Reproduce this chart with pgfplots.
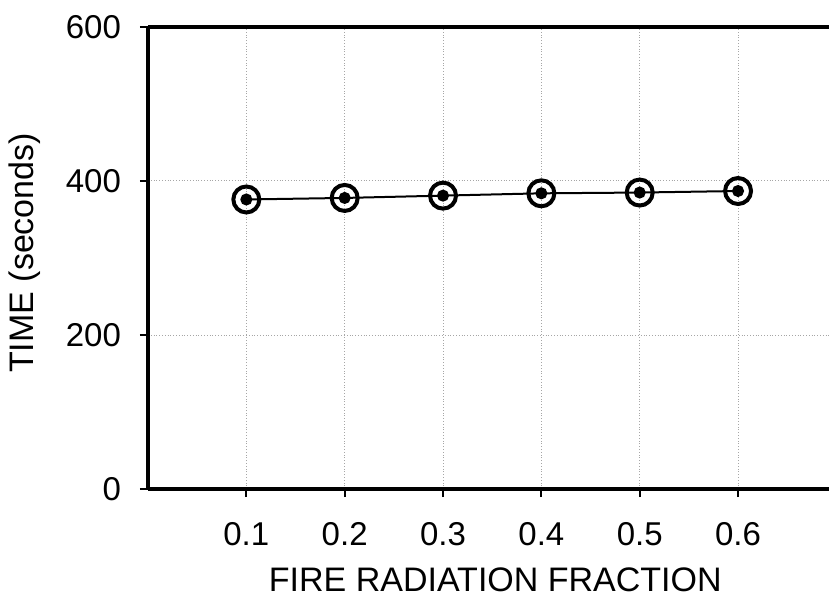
\documentclass[border=0pt]{standalone}
\usepackage{pgfplots}
\pgfplotsset{compat=1.18}
\usepackage{fontspec}
\setmainfont{Liberation Sans}
\begin{document}
\begin{tikzpicture}
\begin{axis}[
  name=ax,
  scale only axis,
  width=340.5pt, height=231pt,
  xmin=0, xmax=0.6925,
  ymin=0, ymax=600,
  axis x line*=box,
  axis y line*=left,
  axis line style={line width=1.6pt},
  xtick={0.1,0.2,0.3,0.4,0.5,0.6},
  xticklabels={0.1,0.2,0.3,0.4,0.5,0.6},
  ytick={0,200,400,600},
  tick align=outside,
  major tick length=4pt,
  tick style={line width=1pt, black},
  xtick pos=bottom,
  ytick pos=left,
  xmajorgrids, ymajorgrids,
  major grid style={densely dotted, gray!70, line width=0.5pt},
  /pgf/number format/assume math mode=true,
  tick label style={font=\fontsize{16.5}{19}\selectfont},
  xticklabel style={yshift=-9pt},
  yticklabel style={xshift=-6pt},
  xlabel={FIRE RADIATION FRACTION},
  ylabel={TIME (seconds)},
  label style={font=\fontsize{17}{20}\selectfont},
  x label style={at={(axis description cs:0.51,-0.196)}, anchor=center},
  y label style={at={(axis description cs:-0.1806,0.511)}, anchor=center, rotate=0},
  clip=false,
]
\addplot[black, line width=1pt, mark=*, mark size=2.5pt,
  mark options={fill=black}] coordinates {
  (0.1,376) (0.2,378) (0.3,381) (0.4,384) (0.5,385) (0.6,387)};
\addplot[draw=none, mark=o, mark size=6.5pt,
  mark options={line width=2pt, black}] coordinates {
  (0.1,376) (0.2,378) (0.3,381) (0.4,384) (0.5,385) (0.6,387)};
\end{axis}
\pgfresetboundingbox
\path[use as bounding box] ([xshift=-74pt,yshift=-57.5pt]ax.south west) rectangle ([yshift=13.5pt]ax.north east);
\end{tikzpicture}
\end{document}
